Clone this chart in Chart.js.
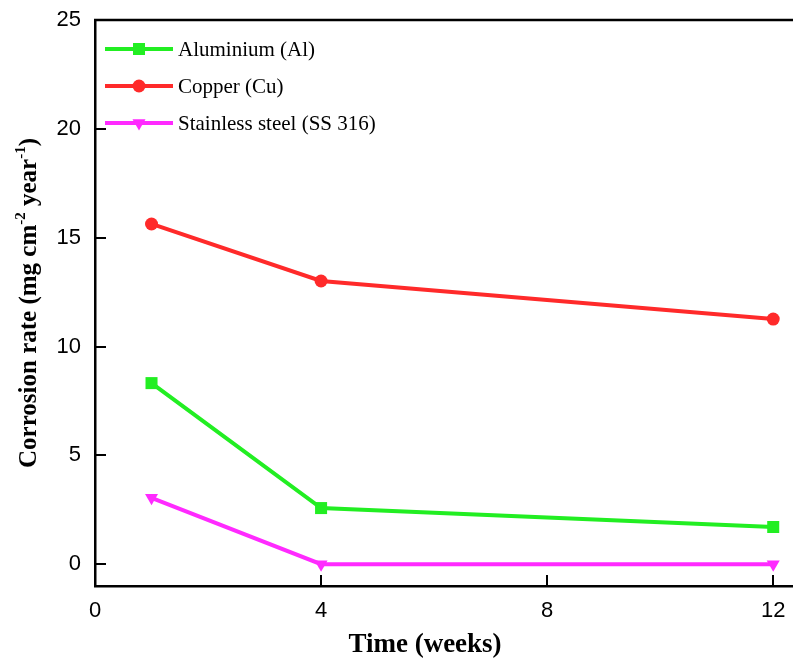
<!DOCTYPE html>
<html>
<head>
  <title>Corrosion rate</title>
  <script src="https://cdn.jsdelivr.net/npm/chart.js"></script>
  <style>
    body { margin: 0; background: #fff; }
  </style>
</head>
<body>
  <canvas id="myChart" width="793" height="660"></canvas>
  <script>
    // data
    var weeks = [1, 4, 12];
    var aluminium = [8.32, 2.58, 1.71];
    var copper = [15.63, 13.01, 11.26];
    var stainless = [3.05, 0.0, 0.0];
    var seriesNames = ['Aluminium (Al)', 'Copper (Cu)', 'Stainless steel (SS 316)'];
    var xTicks = [0, 4, 8, 12];
    var yTicks = [0, 5, 10, 15, 20, 25];

    var green = '#22ee22', red = '#ff2a2a', magenta = '#ff2aff';

    function pts(ys) {
      return weeks.map((w, i) => ({x: w, y: ys[i]}));
    }

    function makeSet(label, ys, color, style, radius, rotation) {
      return {
        label: label,
        data: pts(ys),
        borderColor: color,
        backgroundColor: color,
        borderWidth: 4,
        pointStyle: style,
        pointRadius: radius,
        pointRotation: rotation,
        pointBorderWidth: 0,
        tension: 0
      };
    }

    // frame, inward ticks, axis titles, legend inside the plot
    var extras = {
      id: 'extras',
      afterDraw(chart) {
        const ctx = chart.ctx;
        const a = chart.chartArea;
        const xs = chart.scales.x, ys = chart.scales.y;
        ctx.save();
        ctx.strokeStyle = '#000';
        ctx.lineWidth = 2.5;
        ctx.beginPath();
        ctx.moveTo(a.left - 1, a.top);
        ctx.lineTo(a.right, a.top);
        ctx.stroke();

        ctx.lineWidth = 2;
        ctx.beginPath();
        xTicks.forEach(v => {
          const px = Math.round(xs.getPixelForValue(v));
          ctx.moveTo(px, a.bottom);
          ctx.lineTo(px, a.bottom - 11);
        });
        yTicks.forEach(v => {
          const py = Math.round(ys.getPixelForValue(v));
          ctx.moveTo(a.left, py);
          ctx.lineTo(a.left + 11, py);
        });
        ctx.stroke();

        // x axis title (sits left of the plot centre in the original)
        ctx.fillStyle = '#000';
        ctx.font = 'bold 27px "Liberation Serif"';
        ctx.textAlign = 'center';
        ctx.textBaseline = 'middle';
        ctx.fillText('Time (weeks)', 425, 645);

        // y axis title
        const parts = [
          ['Corrosion rate (mg cm', false],
          ['-2', true],
          [' year', false],
          ['-1', true],
          [')', false]
        ];
        const mainFont = 'bold 25px "Liberation Serif"';
        const supFont = 'bold 15px "Liberation Serif"';
        let total = 0;
        parts.forEach(p => {
          ctx.font = p[1] ? supFont : mainFont;
          total += ctx.measureText(p[0]).width;
        });
        ctx.translate(30, (a.top + a.bottom) / 2);
        ctx.rotate(-Math.PI / 2);
        ctx.textAlign = 'left';
        let cx = -total / 2;
        parts.forEach(p => {
          ctx.font = p[1] ? supFont : mainFont;
          ctx.fillText(p[0], cx, p[1] ? -9 : 0);
          cx += ctx.measureText(p[0]).width;
        });
        ctx.setTransform(1, 0, 0, 1, 0, 0);

        // legend
        chart.data.datasets.forEach((ds, i) => {
          const y = a.top + 29 + i * 37;
          ctx.strokeStyle = ds.borderColor;
          ctx.fillStyle = ds.borderColor;
          ctx.lineWidth = 4;
          ctx.beginPath();
          ctx.moveTo(a.left + 10, y);
          ctx.lineTo(a.left + 78, y);
          ctx.stroke();
          Chart.helpers.drawPoint(ctx, {
            pointStyle: ds.pointStyle,
            radius: ds.pointRadius,
            rotation: ds.pointRotation,
            borderWidth: 0
          }, a.left + 44, y);
          ctx.fillStyle = '#000';
          ctx.font = '21px "Liberation Serif"';
          ctx.textAlign = 'left';
          ctx.textBaseline = 'middle';
          ctx.fillText(ds.label, a.left + 83, y + 1);
        });
        ctx.restore();
      }
    };

    var ctx = document.getElementById('myChart').getContext('2d');
    var myChart = new Chart(ctx, {
      type: 'line',
      data: {
        datasets: [
          makeSet(seriesNames[0], aluminium, green, 'rect', 8.5, 0),
          makeSet(seriesNames[1], copper, red, 'circle', 6.5, 0),
          makeSet(seriesNames[2], stainless, magenta, 'triangle', 7.5, 180)
        ]
      },
      options: {
        responsive: false,
        animation: false,
        layout: { autoPadding: false, padding: { top: 20, right: 0, bottom: 0, left: 0 } },
        plugins: {
          legend: { display: false },
          tooltip: { enabled: false }
        },
        scales: {
          x: {
            type: 'linear',
            min: 0,
            max: 12.35,
            afterBuildTicks: s => { s.ticks = xTicks.map(v => ({value: v})); },
            afterFit: s => { s.height = 74; s.paddingLeft = 0; s.paddingRight = 0; },
            grid: { drawOnChartArea: false, drawTicks: false },
            border: { color: '#000', width: 2.5 },
            ticks: {
              color: '#000',
              padding: 12,
              maxRotation: 0,
              font: { family: 'Liberation Sans', size: 22 }
            }
          },
          y: {
            min: -1,
            max: 25,
            afterBuildTicks: s => { s.ticks = yTicks.map(v => ({value: v})); },
            afterFit: s => { s.width = 95; s.paddingTop = 0; s.paddingBottom = 0; },
            grid: { drawOnChartArea: false, drawTicks: false },
            border: { color: '#000', width: 2.5 },
            ticks: {
              color: '#000',
              padding: 14,
              font: { family: 'Liberation Sans', size: 22 }
            }
          }
        }
      },
      plugins: [extras]
    });
  </script>
</body>
</html>
